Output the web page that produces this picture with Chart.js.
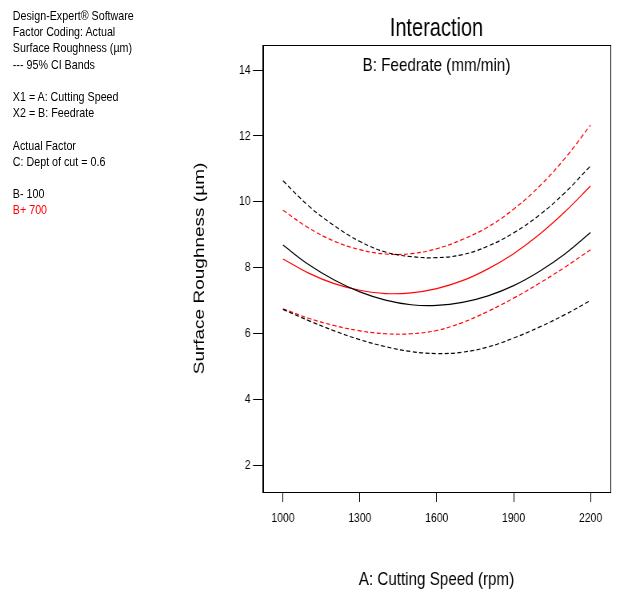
<!DOCTYPE html>
<html><head><meta charset="utf-8">
<script src="https://cdn.jsdelivr.net/npm/chart.js@4.4.1/dist/chart.umd.min.js"></script>
<style>
html,body{margin:0;padding:0;background:#fff;overflow:hidden;}
#wrap{position:absolute;left:0;top:0;width:774px;height:593px;transform:scaleX(0.8);transform-origin:0 0;}
#c{position:absolute;left:0;top:0;}
#notes{position:absolute;left:16px;top:8px;font:13.4px "Liberation Sans",Arial,sans-serif;line-height:16.2px;color:#000;}
#notes div{height:16.2px;white-space:pre;}
</style></head><body>
<div id="wrap">
<canvas id="c" width="774" height="593"></canvas>
<div id="notes"></div>
</div>
<script>
// ---- data ----
const speeds = [1000, 1100, 1200, 1300, 1400, 1500, 1600, 1700, 1800, 1900, 2000, 2100, 2200];
const xTicks = [1000, 1300, 1600, 1900, 2200];
const yTicks = [2, 4, 6, 8, 10, 12, 14];
// B- 100 (black)
const lowFeedMean  = [8.69, 8.10, 7.63, 7.27, 7.02, 6.88, 6.86, 6.95, 7.15, 7.46, 7.89, 8.42, 9.07];
const lowFeedUpper = [10.64, 9.88, 9.28, 8.80, 8.48, 8.34, 8.31, 8.40, 8.66, 9.06, 9.60, 10.28, 11.09];
const lowFeedLower = [6.74, 6.40, 6.09, 5.82, 5.61, 5.46, 5.40, 5.44, 5.60, 5.87, 6.20, 6.58, 7.01];
// B+ 700 (red)
const highFeedMean  = [8.27, 7.84, 7.52, 7.32, 7.22, 7.24, 7.37, 7.61, 7.97, 8.43, 9.01, 9.70, 10.48];
const highFeedUpper = [9.75, 9.21, 8.81, 8.55, 8.42, 8.43, 8.58, 8.86, 9.24, 9.78, 10.47, 11.32, 12.33];
const highFeedLower = [6.76, 6.47, 6.25, 6.09, 6.00, 6.00, 6.10, 6.34, 6.68, 7.08, 7.53, 8.02, 8.55];

const noteLines = ["Design-Expert\u00AE Software", "Factor Coding: Actual", "Surface Roughness (\u00B5m)", "--- 95% CI Bands", "",
  "X1 = A: Cutting Speed", "X2 = B: Feedrate", "", "Actual Factor", "C: Dept of cut = 0.6", "", "B- 100", "B+ 700"];
const noteColors = {"B+ 700": "#ff0000"};
const titleText = "Interaction";
const subtitleText = "B: Feedrate (mm/min)";
const xTitle = "A: Cutting Speed (rpm)";
const yTitle = "Surface Roughness (\u00B5m)";

const FONT = '"Liberation Sans", Arial, sans-serif';
const BLACK = '#000000', RED = '#ff0000';

const notes = document.getElementById('notes');
noteLines.forEach(t => {
  const d = document.createElement('div');
  d.textContent = t;
  if (noteColors[t]) d.style.color = noteColors[t];
  notes.appendChild(d);
});

const pts = arr => speeds.map((x, i) => ({x: x, y: arr[i]}));
const ds = (label, arr, color, dashed) => ({
  label: label, data: pts(arr), borderColor: color, backgroundColor: color,
  borderWidth: 1.2, borderDash: dashed ? [5, 3] : [], pointRadius: 0, tension: 0.4, fill: false
});

const framePlugin = {
  id: 'frame',
  afterDraw(chart) {
    const {ctx, chartArea: a} = chart;
    ctx.save();
    ctx.strokeStyle = '#000';
    ctx.lineWidth = 1;
    ctx.strokeRect(Math.round(a.left) + 0.5, Math.round(a.top) + 0.5, Math.round(a.right - a.left), Math.round(a.bottom - a.top));
    ctx.fillStyle = '#000';
    ctx.font = '19px ' + FONT;
    ctx.textAlign = 'center';
    ctx.textBaseline = 'middle';
    ctx.fillText(subtitleText, (a.left + a.right) / 2, a.top + 21);
    ctx.restore();
  }
};

new Chart(document.getElementById('c'), {
  type: 'line',
  data: {
    datasets: [
      ds('B- 100', lowFeedMean, BLACK, false),
      ds('B- 100 upper CI', lowFeedUpper, BLACK, true),
      ds('B- 100 lower CI', lowFeedLower, BLACK, true),
      ds('B+ 700', highFeedMean, RED, false),
      ds('B+ 700 upper CI', highFeedUpper, RED, true),
      ds('B+ 700 lower CI', highFeedLower, RED, true)
    ]
  },
  options: {
    responsive: false, animation: false, devicePixelRatio: 1,
    layout: {padding: {left: 200, right: 11.5, top: 0, bottom: 0}},
    plugins: {
      legend: {display: false}, tooltip: {enabled: false},
      title: {display: true, text: titleText, fullSize: false, color: '#000',
        font: {family: FONT, size: 25, weight: 'normal'}, padding: {top: 14, bottom: 1}}
    },
    scales: {
      x: {
        type: 'linear', position: 'bottom', min: 922, max: 2276,
        afterBuildTicks: s => { s.ticks = xTicks.map(v => ({value: v})); },
        afterFit: s => { s.height = 101; },
        grid: {display: true, drawOnChartArea: false, drawTicks: true, tickLength: 10, color: '#000'},
        border: {display: true, color: '#000', width: 1},
        ticks: {color: '#000', font: {family: FONT, size: 13}, padding: 9, maxRotation: 0, autoSkip: false,
          callback: v => String(v)},
        title: {display: true, text: xTitle, color: '#000', font: {family: FONT, size: 19}, padding: {top: 0, bottom: 2}}
      },
      y: {
        type: 'linear', position: 'left', min: 1.2, max: 14.76,
        afterBuildTicks: s => { s.ticks = yTicks.map(v => ({value: v})); },
        afterFit: s => { s.width = 128.75; },
        grid: {display: true, drawOnChartArea: false, drawTicks: true, tickLength: 12.5, color: '#000'},
        border: {display: true, color: '#000', width: 1},
        ticks: {color: '#000', font: {family: FONT, size: 13}, padding: 3, autoSkip: false,
          callback: v => String(v)},
        title: {display: true, text: yTitle, color: '#000', font: {family: FONT, size: 19}, padding: {top: 38.6, bottom: 0}}
      }
    }
  },
  plugins: [framePlugin]
});
</script>
</body></html>
